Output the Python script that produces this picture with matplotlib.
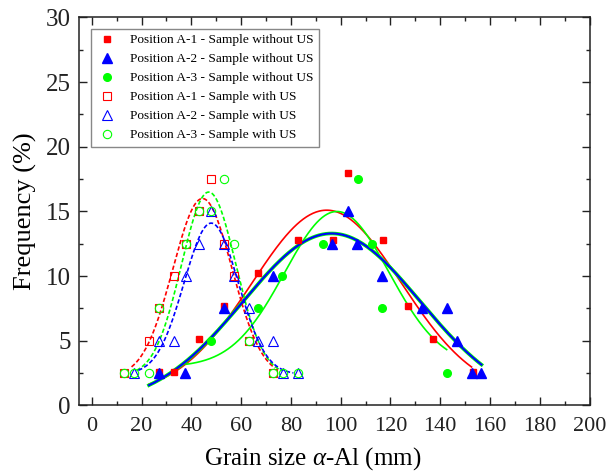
import numpy as np
import matplotlib
matplotlib.use('Agg')
import matplotlib.pyplot as plt
from matplotlib.ticker import MultipleLocator

plt.rcParams['font.family'] = ['Liberation Serif', 'DejaVu Serif']
plt.rcParams['mathtext.fontset'] = 'custom'
plt.rcParams['mathtext.rm'] = 'Liberation Serif'
plt.rcParams['mathtext.it'] = 'Liberation Serif:italic'

# ---------------- data ----------------
# Samples without US (solid markers)
a1_wo_x = [27, 33, 43, 53, 67, 83, 97, 103, 117, 127, 137, 153]
a1_wo_y = [2.56, 2.56, 5.13, 7.69, 10.26, 12.82, 12.82, 17.95, 12.82, 7.69, 5.13, 2.56]
a2_wo_x = [27, 37.5, 53, 72.7, 96.6, 102.8, 106.7, 116.7, 132.5, 142.6, 146.6, 152.6, 156.6]
a2_wo_y = [2.5, 2.5, 7.5, 10, 12.5, 15, 12.5, 10, 7.5, 7.5, 5, 2.5, 2.5]
a3_wo_x = [47.9, 66.7, 76.5, 92.8, 106.8, 112.7, 116.7, 142.6]
a3_wo_y = [5, 7.5, 10, 12.5, 17.5, 12.5, 7.5, 2.5]

# Samples with US (hollow markers)
a1_us_x = [13, 23, 27, 33, 38, 43, 48, 53, 57, 63, 73]
a1_us_y = [2.5, 5, 7.5, 10, 12.5, 15, 17.5, 12.5, 10, 5, 2.5]
a2_us_x = [17, 27, 33, 38, 43, 48, 53, 57, 63, 67, 73, 77, 83]
a2_us_y = [2.5, 5, 5, 10, 12.5, 15, 12.5, 10, 7.5, 5, 5, 2.5, 2.5]
a3_us_x = [13, 17, 23, 27, 38, 43, 48, 53, 57, 63, 73, 77, 83]
a3_us_y = [2.5, 2.5, 2.5, 7.5, 12.5, 15, 15, 17.5, 12.5, 5, 2.5, 2.5, 2.5]

# Gaussian fit parameters: (y0, A, xc, sigma, x_start, x_end)
fit_a1_wo = (0.8, 14.3, 94.4, 30.0, 23, 152.6)
fit_a2_wo = (0.0, 13.3, 96.4, 35.5, 23, 156.6)
fit_a3_wo = (3.0, 12.0, 98.5, 21.0, 38, 142.6)
fit_a1_us = (2.2, 13.8, 44.5, 11.9, 16, 73.6)
fit_a2_us = (2.4, 11.7, 48.0, 10.9, 18.7, 81)
fit_a3_us = (2.3, 14.2, 47.0, 10.9, 18, 76.3)

labels = ['Position A-1 - Sample without US',
          'Position A-2 - Sample without US',
          'Position A-3 - Sample without US',
          'Position A-1 - Sample with US',
          'Position A-2 - Sample with US',
          'Position A-3 - Sample with US']

RED, BLUE, GREEN = '#FF0000', '#0000FF', '#00FF00'


def gauss_curve(p):
    y0, A, xc, s, x0, x1 = p
    x = np.linspace(x0, x1, 300)
    return x, y0 + A * np.exp(-(x - xc) ** 2 / (2 * s ** 2))


fig = plt.figure(figsize=(6.08, 4.72), dpi=100)
ax = fig.add_axes([0.1304, 0.1409, 0.8392, 0.8221])

# fit curves
x, y = gauss_curve(fit_a1_wo)
ax.plot(x, y, color=RED, lw=1.2, zorder=2)
x, y = gauss_curve(fit_a3_wo)
ax.plot(x, y, color=GREEN, lw=1.2, zorder=2)
x, y = gauss_curve(fit_a2_wo)
ax.plot(x, y, color=GREEN, lw=2.6, zorder=2)
ax.plot(x, y, color=BLUE, lw=1.5, zorder=2.1)

dash = (2.6, 1.4)
x, y = gauss_curve(fit_a1_us)
ax.plot(x, y, color=RED, lw=1.2, dashes=dash, zorder=2)
x, y = gauss_curve(fit_a3_us)
ax.plot(x, y, color=GREEN, lw=1.2, dashes=dash, zorder=2)
x, y = gauss_curve(fit_a2_us)
ax.plot(x, y, color=BLUE, lw=1.2, dashes=dash, zorder=2)

# markers
h1, = ax.plot(a1_wo_x, a1_wo_y, ls='none', marker='s', ms=5, color=RED, mec=RED, zorder=3, label=labels[0])
h2, = ax.plot(a2_wo_x, a2_wo_y, ls='none', marker='^', ms=6.5, color=BLUE, mec=BLUE, zorder=3.1, label=labels[1])
h3, = ax.plot(a3_wo_x, a3_wo_y, ls='none', marker='o', ms=5.5, color=GREEN, mec=GREEN, zorder=3.2, label=labels[2])
h4, = ax.plot(a1_us_x, a1_us_y, ls='none', marker='s', ms=5.5, mfc='none', mec=RED, mew=0.8, zorder=3, label=labels[3])
h5, = ax.plot(a2_us_x, a2_us_y, ls='none', marker='^', ms=7, mfc='none', mec=BLUE, mew=0.8, zorder=3.1, label=labels[4])
h6, = ax.plot(a3_us_x, a3_us_y, ls='none', marker='o', ms=6, mfc='none', mec=GREEN, mew=0.8, zorder=3.2, label=labels[5])

ax.set_xlim(-5, 200)
ax.set_ylim(0, 30)
ax.xaxis.set_major_locator(MultipleLocator(20))
ax.xaxis.set_minor_locator(MultipleLocator(10))
ax.yaxis.set_major_locator(MultipleLocator(5))
ax.yaxis.set_minor_locator(MultipleLocator(2.5))
ax.tick_params(which='both', direction='in', top=True, right=True, width=1.0, colors='#222222')
ax.tick_params(axis='x', labelsize=16, pad=8)
ax.tick_params(axis='y', labelsize=18, pad=6)
ax.tick_params(which='major', length=5.5)
ax.tick_params(which='minor', length=3)
for s in ax.spines.values():
    s.set_linewidth(1.1)
    s.set_color('#222222')

ax.set_xlabel(r'Grain size $\alpha$-Al (mm)', fontsize=18)
ax.xaxis.set_label_coords(0.458, -0.103)
ax.set_ylabel('Frequency (%)', fontsize=19)
ax.yaxis.set_label_coords(-0.083, 0.5)

leg = ax.legend(handles=[h1, h2, h3, h4, h5, h6], loc='upper left',
                bbox_to_anchor=(0.023, 0.971), borderaxespad=0,
                fontsize=9.6, handlelength=1.6, handletextpad=0.9,
                labelspacing=0.5, borderpad=0.4, fancybox=False,
                framealpha=1, edgecolor='#888888')
leg.get_frame().set_linewidth(1.0)

fig.savefig('out.png', dpi=100)
